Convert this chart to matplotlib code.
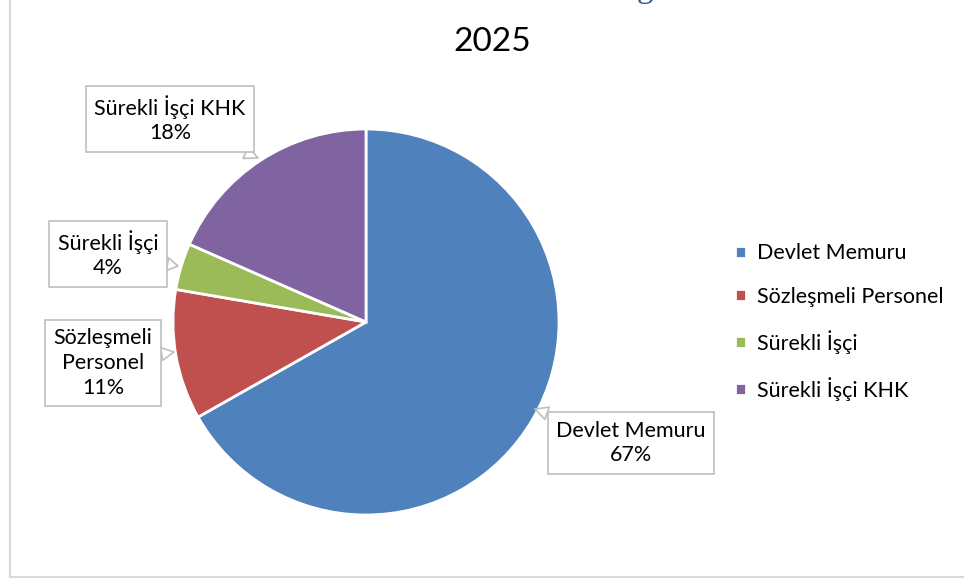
import matplotlib.pyplot as plt
from matplotlib.lines import Line2D

plt.rcParams['font.family'] = ['Lato', 'DejaVu Sans']

# data
categories = ['Devlet Memuru', 'Sözleşmeli Personel', 'Sürekli İşçi', 'Sürekli İşçi KHK']
shares = [66.8, 10.9, 3.9, 18.4]
colors = ['#4F81BD', '#C0504D', '#9BBB59', '#8064A2']
box_names = ['Devlet Memuru', 'Sözleşmeli\nPersonel', 'Sürekli İşçi', 'Sürekli İşçi KHK']

W, H = 964, 579
fig = plt.figure(figsize=(W / 100, H / 100), dpi=100)
ax = fig.add_axes([0, 0, 1, 1])

def py(y):
    # pixel y (top-down) -> data y
    return H - y

wedges, _ = ax.pie(shares, colors=colors, startangle=90, counterclock=False,
                   center=(366, py(322)), radius=193, frame=True,
                   wedgeprops=dict(edgecolor='white', linewidth=2))

ax.set_xlim(0, W)
ax.set_ylim(0, H)
ax.set_aspect('equal')
ax.axis('off')

# frame of the chart area
ax.add_line(Line2D([9.5, 9.5], [py(577), H], color='#D9D9D9', lw=1.5))
ax.add_line(Line2D([9.5, W], [py(577), py(577)], color='#D9D9D9', lw=1.5))

# title
ax.text(492, py(42), '2025', ha='center', va='center', fontsize=24, color='#000000')
# tail of the cut-off heading above
fig.text(645 / W, 1 + 3 / H, 'g', ha='center', va='baseline', fontsize=24,
         family='Liberation Serif', color='#2E5597')

# callout labels: (text centre, pointer tip) in pixels
box_pos = [(631, 443), (103, 363), (108, 254), (170, 119)]
tips = [(535, 409), (174, 352), (178, 266), (258, 158)]
for name, val, (bx, by), (tx, ty) in zip(box_names, shares, box_pos, tips):
    ax.annotate(f'{name}\n{val:.0f}%', xy=(tx, py(ty)), xytext=(bx, py(by)),
                ha='center', va='center', fontsize=15.5, linespacing=1.3,
                bbox=dict(boxstyle='square,pad=0.4', fc='white', ec='#BFBFBF', lw=1.2),
                arrowprops=dict(arrowstyle='wedge,tail_width=0.6,shrink_factor=0.5',
                                fc='white', ec='#BFBFBF', lw=1.2, shrinkA=0, shrinkB=0))

ax.legend(wedges, categories, loc='upper left', bbox_to_anchor=(716, py(224)),
          bbox_transform=ax.transData, frameon=False, fontsize=15.5,
          handlelength=0.5, handleheight=0.5, handletextpad=0.5, labelspacing=1.08)

fig.savefig('out.png', dpi=100, facecolor='white')
